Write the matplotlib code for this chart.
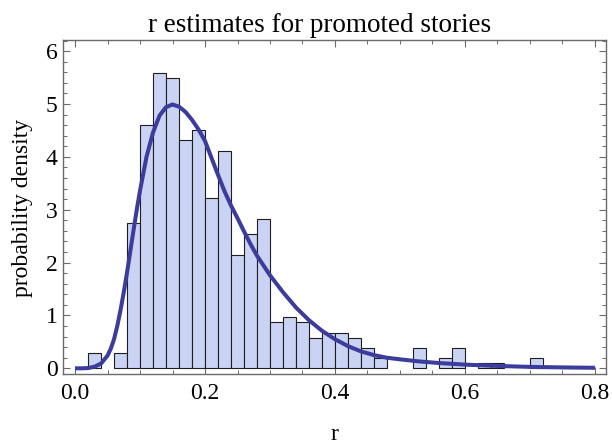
import numpy as np
import matplotlib
matplotlib.use("Agg")
from matplotlib import pyplot as plt
from matplotlib.ticker import MultipleLocator, FormatStrFormatter

plt.rcParams['font.family'] = ['Liberation Serif', 'DejaVu Serif']

# histogram: left edges of the 0.02 wide bins and their densities
bin_left = [0.02, 0.06, 0.08, 0.10, 0.12, 0.14, 0.16, 0.18, 0.20, 0.22,
            0.24, 0.26, 0.28, 0.30, 0.32, 0.34, 0.36, 0.38, 0.40, 0.42,
            0.44, 0.46, 0.52, 0.56, 0.58, 0.62, 0.64, 0.70]
density = [0.29, 0.29, 2.74, 4.60, 5.59, 5.49, 4.31, 4.50, 3.23, 4.11,
           2.14, 2.55, 2.83, 0.87, 0.97, 0.87, 0.58, 0.67, 0.67, 0.58,
           0.39, 0.19, 0.39, 0.19, 0.39, 0.10, 0.10, 0.19]
bin_width = 0.02

# fitted curve, points
curve_r = [0.0, 0.01, 0.02, 0.03, 0.04, 0.05, 0.055, 0.06, 0.065, 0.07,
           0.075, 0.08, 0.085, 0.09, 0.095, 0.10, 0.11, 0.12, 0.13, 0.14,
           0.15, 0.16, 0.17, 0.18, 0.19, 0.20, 0.21, 0.22, 0.23, 0.24,
           0.25, 0.26, 0.27, 0.28, 0.30, 0.32, 0.34, 0.36, 0.38, 0.40,
           0.42, 0.44, 0.46, 0.48, 0.50, 0.53, 0.56, 0.60, 0.65, 0.70,
           0.75, 0.80]
curve_p = [0.0, 0.0, 0.005, 0.03, 0.09, 0.24, 0.37, 0.55, 0.80, 1.10,
           1.44, 1.81, 2.21, 2.61, 3.00, 3.36, 4.00, 4.46, 4.78, 4.94,
           4.99, 4.95, 4.85, 4.70, 4.52, 4.30, 3.98, 3.66, 3.35, 3.08,
           2.84, 2.59, 2.35, 2.13, 1.76, 1.44, 1.15, 0.91, 0.71, 0.55,
           0.42, 0.32, 0.25, 0.20, 0.17, 0.13, 0.10, 0.07, 0.045, 0.027,
           0.017, 0.01]

fig = plt.figure(figsize=(6.12, 4.45), dpi=100)
ax = fig.add_axes([63 / 612, 1 - 373.5 / 445, (606 - 63) / 612, (373.5 - 39.5) / 445])

ax.bar(bin_left, density, width=bin_width, align='edge',
       color='#cbd3f5', edgecolor='#1e1e1e', linewidth=0.8, zorder=2)
ax.plot(curve_r, curve_p, color='#3c3c9c', linewidth=2.9,
        solid_capstyle='butt', zorder=3)

ax.set_xlim(-0.0185, 0.817)
ax.set_ylim(-0.098, 6.22)

ax.xaxis.set_major_locator(MultipleLocator(0.2))
ax.xaxis.set_minor_locator(MultipleLocator(0.05))
ax.xaxis.set_major_formatter(FormatStrFormatter('%.1f'))
ax.yaxis.set_major_locator(MultipleLocator(1))
ax.yaxis.set_minor_locator(MultipleLocator(0.2))

frame_col = '#6a6a6a'
for s in ax.spines.values():
    s.set_color(frame_col)
    s.set_linewidth(1.0)
ax.tick_params(which='both', direction='in', top=True, right=True,
               color=frame_col, labelsize=17, labelcolor='black')
ax.tick_params(which='major', length=5, width=0.8)
ax.tick_params(which='minor', length=3, width=0.7)
ax.tick_params(axis='x', which='major', pad=7)
ax.tick_params(axis='y', which='major', pad=4)

fig.text(320 / 612, 1 - 32 / 445, 'r estimates for promoted stories',
         ha='center', va='baseline', fontsize=19.5)
fig.text(23 / 612, 1 - 208 / 445, 'probability density', rotation=90,
         ha='center', va='center', fontsize=17)
fig.text(334 / 612, 1 - 435 / 445, 'r', ha='center', va='center', fontsize=17)

fig.savefig('out.png', dpi=100)
